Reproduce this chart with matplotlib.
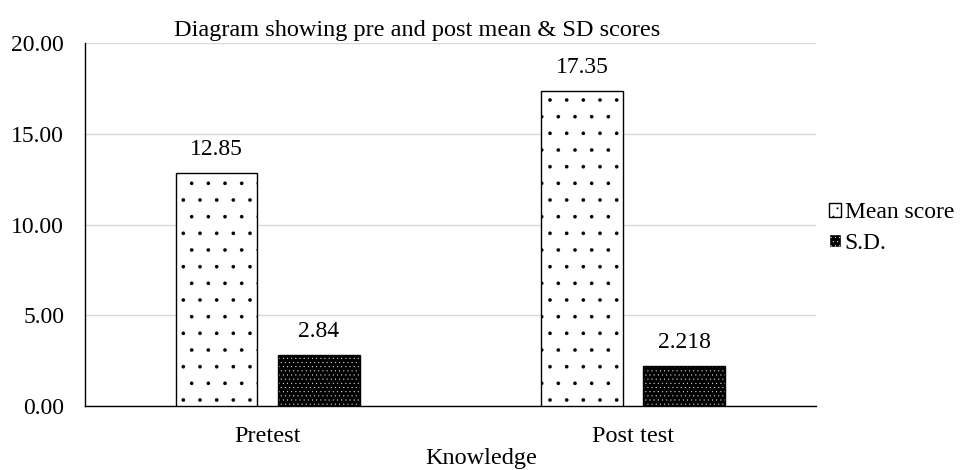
import matplotlib.pyplot as plt
import numpy as np
from matplotlib.patches import Patch

plt.rcParams['font.family'] = ['Liberation Serif', 'DejaVu Serif']

categories = ['Pretest', 'Post test']
mean_score = [12.85, 17.35]
sd_score = [2.84, 2.218]
mean_labels = ['12.85', '17.35']
sd_labels = ['2.84', '2.218']

fig = plt.figure(figsize=(9.6, 4.7), dpi=100)
ax = fig.add_axes([0.0885, 0.136, 0.7615, 0.7723])

x = np.arange(len(categories))
w = 0.224
off = 0.14

plt.rcParams['hatch.linewidth'] = 0.2
# mean bars: white with sparse dots
ax.bar(x - off, mean_score, w, color='white', edgecolor='black', linewidth=1.0,
       hatch='.', zorder=3)
# sd bars: black with dense white dots, outline drawn on top
ax.bar(x + off, sd_score, w, color='black', edgecolor='white', linewidth=0,
       hatch='....', zorder=3)
ax.bar(x + off, sd_score, w, fill=False, edgecolor='black', linewidth=1.0, zorder=4)

for xi, v, t in zip(x - off, mean_score, mean_labels):
    ax.text(xi, v + 0.7, t, ha='center', va='bottom', fontsize=17)
for xi, v, t in zip(x + off, sd_score, sd_labels):
    ax.text(xi, v + 0.7, t, ha='center', va='bottom', fontsize=17)

ax.set_xlim(-0.5, 1.5)
ax.set_ylim(0, 20)
ax.set_yticks([0, 5, 10, 15, 20])
ax.set_yticklabels(['0.00', '5.00', '10.00', '15.00', '20.00'])
ax.set_xticks(x)
ax.set_xticklabels(categories)
ax.tick_params(axis='both', length=0)
ax.tick_params(axis='y', pad=15, labelsize=17)
ax.tick_params(axis='x', pad=14, labelsize=17.5)
ax.yaxis.grid(True, color='#d9d9d9', linewidth=1.0, zorder=0)
ax.set_axisbelow(True)
for s in ['right', 'top']:
    ax.spines[s].set_visible(False)
for s in ['left', 'bottom']:
    ax.spines[s].set_color('black')
    ax.spines[s].set_linewidth(1.0)

# titles placed where the reference puts them
fig.text(0.435, 0.936, 'Diagram showing pre and post mean & SD scores',
         ha='center', va='center', fontsize=17.5)
fig.text(0.501, 0.003, 'Knowledge', ha='center', va='bottom', fontsize=17.5)

handles = [Patch(facecolor='white', edgecolor='black', hatch='..', label='Mean score'),
           Patch(facecolor='black', edgecolor='white', hatch='....', label='S.D.')]
fig.legend(handles=handles, loc='center left', bbox_to_anchor=(0.864, 0.515),
           frameon=False, fontsize=17, handlelength=0.5, handleheight=0.5,
           handletextpad=0.15, labelspacing=0.4, borderpad=0, borderaxespad=0)

fig.savefig('out.png', dpi=100)
